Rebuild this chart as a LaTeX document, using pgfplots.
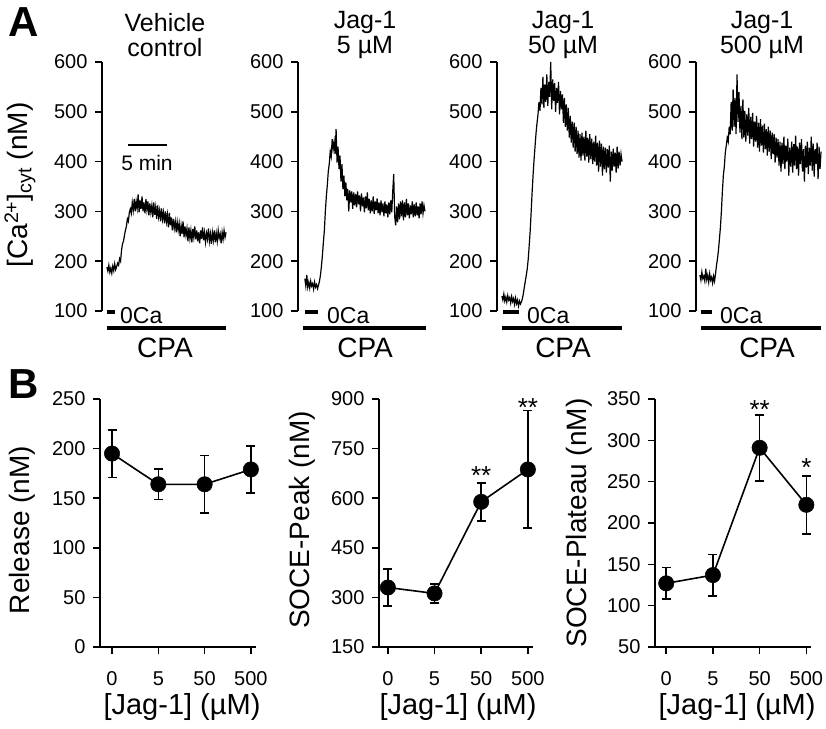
\documentclass[border=0pt]{standalone}
\usepackage{fontspec}
\setmainfont{Liberation Sans}
\usepackage{pgfplots}
\pgfplotsset{compat=1.18}
\newcommand{\fs}[1]{\fontsize{#1}{#1}\selectfont}
\begin{document}
\begin{tikzpicture}
\useasboundingbox (0pt,0pt) rectangle (826pt,728pt);
\pgfplotsset{
  common/.style={
    scale only axis, anchor=south west, clip=false,
    tick align=outside, major tick length=7pt,
    tick style={line width=1.6pt,black},
    tick label style={font=\fs{20}},
    yticklabel style={xshift=-4pt},
    /pgf/number format/assume math mode=true,
  },
  lines/.style={
    axis line style={line width=1.6pt,-},
    every outer x axis line/.append style={-},
    every outer y axis line/.append style={-},
  },
  toppanel/.style={
    axis y line=left, axis x line=none, common, lines,
    width=125pt, height=249pt, xmin=0, xmax=16, ymin=100, ymax=600,
    xtick=\empty, ytick={100,200,...,600},
  },
  bottompanel/.style={
    axis y line=left, axis x line=bottom, common, lines,
    height=248pt,
    xtick={0,1,2,3}, xticklabels={0,5,50,500},
    xticklabel style={yshift=-14pt},
  },
  trace/.style={black, line width=1.2pt, no marks},
  pts/.style={black, line width=1.6pt, mark=*, mark size=7.7pt,
    mark options={fill=black, draw=black, line width=0.5pt},
    error bars/.cd, y dir=both, y explicit,
    error bar style={line width=1.6pt},
    error mark options={rotate=90, mark size=4.5pt, line width=1.6pt}},
}
% ---------- Panel A1 ----------
\begin{axis}[toppanel, at={(102pt,417pt)}]
\addplot[trace] coordinates {
(0.625,188)(0.75,180)(0.875,192)(1.0,178)(1.125,186)(1.25,176)(1.375,190)(1.5,181)(1.625,195)(1.75,183)(1.875,189)(2.0,196)(2.125,192)(2.25,205)(2.375,200)(2.5,222)(2.625,235)(2.75,240)(2.875,252)(3.0,262)(3.125,270)(3.25,285)(3.375,280)(3.5,298)(3.625,305)(3.75,296)(3.875,318)(4.0,302)(4.125,325)(4.25,300)(4.375,320)(4.5,306)(4.625,334)(4.75,298)(4.875,322)(5.0,305)(5.125,330)(5.25,300)(5.375,318)(5.5,296)(5.625,325)(5.75,303)(5.875,320)(6.0,292)(6.125,316)(6.25,298)(6.375,312)(6.5,288)(6.625,318)(6.75,293)(6.875,309)(7.0,285)(7.125,312)(7.25,289)(7.375,302)(7.5,280)(7.625,306)(7.75,284)(7.875,298)(8.0,276)(8.125,300)(8.25,279)(8.375,294)(8.5,268)(8.625,297)(8.75,272)(8.875,288)(9.0,262)(9.125,285)(9.25,266)(9.375,280)(9.5,258)(9.625,279)(9.75,262)(9.875,276)(10.0,250)(10.125,272)(10.25,255)(10.375,280)(10.5,248)(10.625,270)(10.75,252)(10.875,266)(11.0,240)(11.125,268)(11.25,246)(11.375,262)(11.5,238)(11.625,265)(11.75,248)(11.875,270)(12.0,244)(12.125,262)(12.25,240)(12.375,258)(12.5,236)(12.625,262)(12.75,245)(12.875,268)(13.0,242)(13.125,258)(13.25,238)(13.375,256)(13.5,244)(13.625,266)(13.75,240)(13.875,255)(14.0,235)(14.125,258)(14.25,242)(14.375,262)(14.5,238)(14.625,256)(14.75,240)(14.875,262)(15.0,246)(15.125,255)(15.25,236)(15.375,258)(15.5,244)(15.625,262)(15.75,248)(15.875,258)
};
\draw[line width=4pt] (axis cs:0.64,66) -- (axis cs:15.87,66);
\draw[line width=4pt] (axis cs:0.64,98) -- (axis cs:1.66,98);
\node[anchor=west, inner sep=0pt, font=\fs{23}] at (axis cs:2.3,90) {0Ca};
\node[font=\fs{28}] at (axis cs:8.06,26) {CPA};
\node[align=center, font=\fs{25}] at (axis cs:8.06,655) {Vehicle\\control};
\draw[line width=1.6pt] (axis cs:3.33,433) -- (axis cs:8.32,433);
\node[font=\fs{21}] at (axis cs:5.76,397) {5 min};
\end{axis}
% ---------- Panel A2 ----------
\begin{axis}[toppanel, at={(298pt,417pt)}]
\addplot[trace] coordinates {
(0.875,165)(1.0,150)(1.125,172)(1.25,148)(1.375,158)(1.5,146)(1.625,160)(1.75,150)(1.875,155)(2.0,144)(2.125,158)(2.25,148)(2.375,153)(2.5,145)(2.625,152)(2.75,160)(2.875,172)(3.0,190)(3.125,212)(3.25,238)(3.375,262)(3.5,300)(3.625,330)(3.75,352)(3.875,380)(4.0,395)(4.125,420)(4.25,410)(4.375,445)(4.5,425)(4.625,440)(4.75,415)(4.875,465)(5.0,398)(5.125,430)(5.25,385)(5.375,412)(5.5,360)(5.625,395)(5.75,345)(5.875,372)(6.0,330)(6.125,358)(6.25,322)(6.375,345)(6.5,300)(6.625,342)(6.75,318)(6.875,340)(7.0,305)(7.125,338)(7.25,312)(7.375,335)(7.5,308)(7.625,340)(7.75,314)(7.875,332)(8.0,300)(8.125,336)(8.25,310)(8.375,328)(8.5,298)(8.625,330)(8.75,306)(8.875,338)(9.0,302)(9.125,325)(9.25,296)(9.375,322)(9.5,300)(9.625,330)(9.75,295)(9.875,320)(10.0,302)(10.125,326)(10.25,296)(10.375,318)(10.5,292)(10.625,322)(10.75,298)(10.875,316)(11.0,290)(11.125,320)(11.25,296)(11.375,314)(11.5,288)(11.625,318)(11.75,294)(11.875,322)(12.0,298)(12.125,340)(12.25,375)(12.375,290)(12.5,272)(12.625,310)(12.75,278)(12.875,316)(13.0,284)(13.125,320)(13.25,290)(13.375,322)(13.5,282)(13.625,318)(13.75,288)(13.875,325)(14.0,292)(14.125,316)(14.25,286)(14.375,312)(14.5,294)(14.625,320)(14.75,288)(14.875,314)(15.0,290)(15.125,318)(15.25,292)(15.375,310)(15.5,286)(15.625,316)(15.75,294)(15.875,320)(16.0,296)(16.125,312)(16.25,300)
};
\draw[line width=4pt] (axis cs:0.64,66) -- (axis cs:16.38,66);
\draw[line width=4pt] (axis cs:0.9,98) -- (axis cs:2.56,98);
\node[anchor=west, inner sep=0pt, font=\fs{23}] at (axis cs:3.7,90) {0Ca};
\node[font=\fs{28}] at (axis cs:8.58,26) {CPA};
\node[align=center, font=\fs{25}] at (axis cs:8.58,655) {Jag-1\\5 µM};
\end{axis}
% ---------- Panel A3 ----------
\begin{axis}[toppanel, at={(497pt,417pt)}]
\addplot[trace] coordinates {
(0.625,130)(0.75,122)(0.875,134)(1.0,120)(1.125,128)(1.25,118)(1.375,131)(1.5,122)(1.625,127)(1.75,116)(1.875,129)(2.0,119)(2.125,125)(2.25,113)(2.375,126)(2.5,115)(2.625,122)(2.75,110)(2.875,120)(3.0,114)(3.125,118)(3.25,125)(3.375,135)(3.5,148)(3.625,160)(3.75,172)(3.875,185)(4.0,205)(4.125,232)(4.25,262)(4.375,300)(4.5,340)(4.625,375)(4.75,405)(4.875,432)(5.0,458)(5.125,478)(5.25,495)(5.375,520)(5.5,502)(5.625,548)(5.75,515)(5.875,570)(6.0,508)(6.125,555)(6.25,520)(6.375,575)(6.5,512)(6.625,560)(6.75,530)(6.875,600)(7.0,505)(7.125,565)(7.25,522)(7.375,558)(7.5,500)(7.625,548)(7.75,518)(7.875,560)(8.0,495)(8.125,542)(8.25,505)(8.375,535)(8.5,478)(8.625,528)(8.75,470)(8.875,515)(9.0,462)(9.125,508)(9.25,448)(9.375,492)(9.5,438)(9.625,480)(9.75,428)(9.875,478)(10.0,420)(10.125,470)(10.25,415)(10.375,462)(10.5,408)(10.625,455)(10.75,402)(10.875,458)(11.0,412)(11.125,450)(11.25,402)(11.375,462)(11.5,410)(11.625,448)(11.75,398)(11.875,455)(12.0,405)(12.125,446)(12.25,395)(12.375,440)(12.5,400)(12.625,452)(12.75,392)(12.875,438)(13.0,380)(13.125,442)(13.25,390)(13.375,436)(13.5,372)(13.625,430)(13.75,385)(13.875,428)(14.0,378)(14.125,425)(14.25,388)(14.375,432)(14.5,360)(14.625,420)(14.75,382)(14.875,426)(15.0,390)(15.125,418)(15.25,378)(15.375,430)(15.5,386)(15.625,420)(15.75,392)(15.875,415)(16.0,400)
};
\draw[line width=4pt] (axis cs:0.64,66) -- (axis cs:16.0,66);
\draw[line width=4pt] (axis cs:0.77,98) -- (axis cs:2.82,98);
\node[anchor=west, inner sep=0pt, font=\fs{23}] at (axis cs:3.84,90) {0Ca};
\node[font=\fs{28}] at (axis cs:8.45,26) {CPA};
\node[align=center, font=\fs{25}] at (axis cs:8.45,655) {Jag-1\\50 µM};
\end{axis}
% ---------- Panel A4 ----------
\begin{axis}[toppanel, at={(696pt,417pt)}]
\addplot[trace] coordinates {
(0.5,172)(0.625,162)(0.75,178)(0.875,165)(1.0,170)(1.125,160)(1.25,185)(1.375,163)(1.5,172)(1.625,158)(1.75,175)(1.875,162)(2.0,168)(2.125,156)(2.25,170)(2.375,160)(2.5,175)(2.625,192)(2.75,205)(2.875,222)(3.0,245)(3.125,268)(3.25,300)(3.375,340)(3.5,372)(3.625,390)(3.75,418)(3.875,432)(4.0,448)(4.125,440)(4.25,470)(4.375,455)(4.5,520)(4.625,462)(4.75,545)(4.875,470)(5.0,528)(5.125,455)(5.25,575)(5.375,480)(5.5,540)(5.625,458)(5.75,512)(5.875,445)(6.0,525)(6.125,448)(6.25,502)(6.375,440)(6.5,495)(6.625,452)(6.75,508)(6.875,436)(7.0,490)(7.125,445)(7.25,498)(7.375,430)(7.5,480)(7.625,440)(7.75,492)(7.875,428)(8.0,478)(8.125,420)(8.25,485)(8.375,432)(8.5,472)(8.625,418)(8.75,476)(8.875,425)(9.0,465)(9.125,412)(9.25,470)(9.375,420)(9.5,462)(9.625,405)(9.75,458)(9.875,415)(10.0,455)(10.125,398)(10.25,448)(10.375,408)(10.5,445)(10.625,392)(10.75,440)(10.875,380)(11.0,438)(11.125,395)(11.25,450)(11.375,385)(11.5,432)(11.625,400)(11.75,446)(11.875,372)(12.0,428)(12.125,390)(12.25,440)(12.375,378)(12.5,435)(12.625,392)(12.75,452)(12.875,385)(13.0,430)(13.125,372)(13.25,438)(13.375,395)(13.5,445)(13.625,380)(13.75,425)(13.875,360)(14.0,432)(14.125,388)(14.25,440)(14.375,375)(14.5,428)(14.625,392)(14.75,450)(14.875,382)(15.0,436)(15.125,370)(15.25,425)(15.375,395)(15.5,438)(15.625,365)(15.75,430)(15.875,385)(16.0,420)
};
\draw[line width=4pt] (axis cs:0.64,66) -- (axis cs:16.0,66);
\draw[line width=4pt] (axis cs:0.64,98) -- (axis cs:2.05,98);
\node[anchor=west, inner sep=0pt, font=\fs{23}] at (axis cs:3.07,90) {0Ca};
\node[font=\fs{28}] at (axis cs:9.09,26) {CPA};
\node[align=center, font=\fs{25}] at (axis cs:8.45,655) {Jag-1\\500 µM};
\end{axis}
% ---------- Panel B1 ----------
\begin{axis}[bottompanel, at={(100pt,81pt)}, width=156pt, xmin=-0.26, xmax=3.11,
  ymin=0, ymax=250, ytick={0,50,...,250}]
\addplot[pts] coordinates {(0,195) +- (0,24) (1,164) +- (0,15.5) (2,164) +- (0,29) (3,179) +- (0,23.5)};
\end{axis}
% ---------- Panel B2 ----------
\begin{axis}[bottompanel, at={(379pt,81pt)}, width=154pt, xmin=-0.19, xmax=3.11,
  ymin=150, ymax=900, ytick={150,300,...,900}]
\addplot[pts] coordinates {(0,330) +- (0,56) (1,312) +- (0,29) (2,589) +- (0,57.5) (3,687) +- (0,178)};
\node[anchor=base, font=\fs{26}] at (axis cs:2,640) {**};
\node[anchor=base, font=\fs{26}] at (axis cs:3,846) {**};
\end{axis}
% ---------- Panel B3 ----------
\begin{axis}[bottompanel, at={(655pt,81pt)}, width=156pt, xmin=-0.24, xmax=3.1,
  ymin=50, ymax=350, ytick={50,100,...,350}]
\addplot[pts] coordinates {(0,127) +- (0,19) (1,137) +- (0,25) (2,291) +- (0,40) (3,222) +- (0,35)};
\node[anchor=base, font=\fs{26}] at (axis cs:2,327) {**};
\node[anchor=base, font=\fs{26}] at (axis cs:3,256) {*};
\end{axis}
% ---------- labels ----------
\node[font=\fs{42}\bfseries] at (24pt,706pt) {A};
\node[font=\fs{42}\bfseries] at (24pt,344pt) {B};
\node[rotate=90, font=\fs{28}] at (20pt,543pt) {[Ca\textsuperscript{2+}]\textsubscript{cyt} (nM)};
\node[rotate=90, font=\fs{28}] at (22pt,198pt) {Release (nM)};
\node[rotate=90, font=\fs{28}] at (302pt,208pt) {SOCE-Peak (nM)};
\node[rotate=90, font=\fs{28}] at (579pt,205pt) {SOCE-Plateau (nM)};
\node[font=\fs{29}] at (182pt,21pt) {[Jag-1] (µM)};
\node[font=\fs{29}] at (458pt,21pt) {[Jag-1] (µM)};
\node[font=\fs{29}] at (737pt,21pt) {[Jag-1] (µM)};
\end{tikzpicture}
\end{document}
